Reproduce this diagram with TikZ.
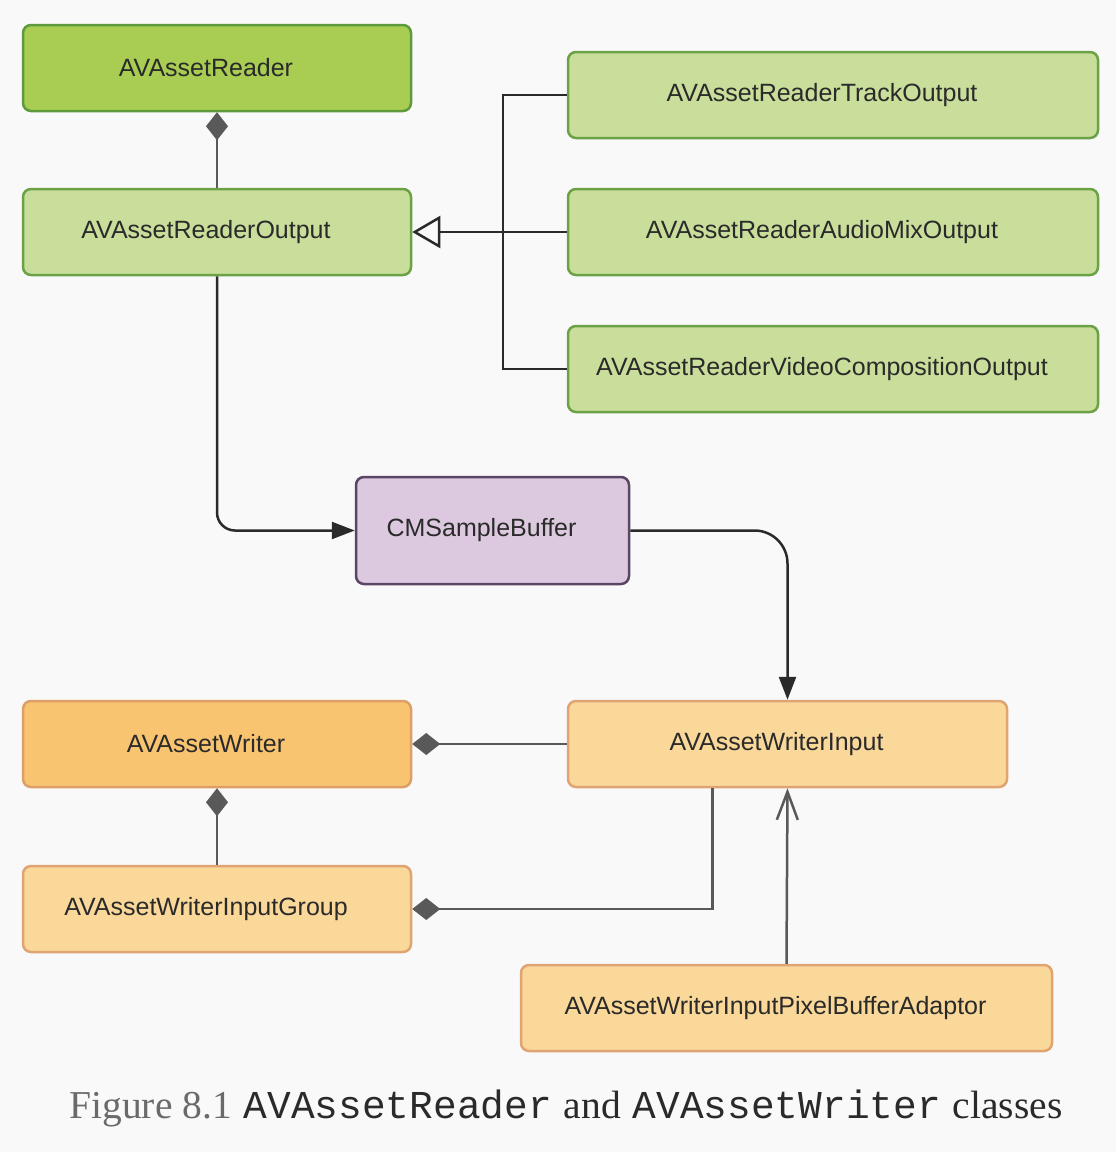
\documentclass[tikz,border=0pt]{standalone}
\usepackage{fontspec}
\newfontfamily\boxfont{Liberation Sans}
\newfontfamily\capfont{Liberation Serif}
\setmonofont{Liberation Mono}
\usetikzlibrary{arrows.meta,positioning}
\definecolor{bg}{HTML}{F9F9F9}
\definecolor{txt}{HTML}{2A2A2A}
\definecolor{rdfill}{HTML}{A9CD52}
\definecolor{rdline}{HTML}{5E9B3C}
\definecolor{ltgfill}{HTML}{C9DE9A}
\definecolor{ltgline}{HTML}{6AA245}
\definecolor{smfill}{HTML}{DCC9DF}
\definecolor{smline}{HTML}{5A4664}
\definecolor{wrfill}{HTML}{F9C46F}
\definecolor{wrline}{HTML}{DD9F68}
\definecolor{ltofill}{HTML}{FAD899}
\definecolor{ltoline}{HTML}{E0A472}
\definecolor{conngray}{HTML}{595959}
\definecolor{capgray}{HTML}{6A6A6A}

\begin{document}
\begin{tikzpicture}
[x=1pt, y=-1pt,
classnode/.style={rectangle, rounded corners=8pt, line width=2.5pt, minimum width=388pt, minimum height=86pt, text=txt, font=\boxfont\fontsize{25}{30}\selectfont, execute at end node={\hspace*{22pt}}},
readnode/.style={classnode, draw=rdline, fill=rdfill},
outnode/.style={classnode, draw=ltgline, fill=ltgfill},
bufnode/.style={classnode, draw=smline, fill=smfill, minimum width=273pt, minimum height=107pt},
writenode/.style={classnode, draw=wrline, fill=wrfill},
inputnode/.style={classnode, draw=ltoline, fill=ltofill},
comp/.style={line width=2.5pt, draw=conngray, -{Diamond[length=28pt, width=22pt, fill=conngray]}},
genline/.style={line width=2.5pt, draw=txt},
flow/.style={line width=2.5pt, draw=txt, -{Triangle[length=23pt, width=17pt, fill=txt]}},
assoc/.style={line width=2.5pt, draw=conngray, -{Straight Barb[length=28pt, width=21pt]}},
]
\fill[bg] (0,0) rectangle (1116,1152);
\useasboundingbox (0,0) rectangle (1116,1152);
%reader side
\node[readnode](reader) at (217,68) {AVAssetReader};
\node[outnode](readerout) at (217,232) {AVAssetReaderOutput};
\node[outnode, minimum width=530pt](track) at (833,95) {AVAssetReaderTrackOutput};
\node[outnode, minimum width=530pt](audio) at (833,232) {AVAssetReaderAudioMixOutput};
\node[outnode, minimum width=530pt](video) at (833,369) {AVAssetReaderVideoCompositionOutput};
%buffer
\node[bufnode](sample) at (492.5,530.5) {CMSampleBuffer};
%writer side
\node[writenode](writer) at (217,744) {AVAssetWriter};
\node[inputnode, minimum width=439pt](writerin) at (787.5,744) {AVAssetWriterInput};
\node[inputnode](group) at (217,909) {AVAssetWriterInputGroup};
\node[inputnode, minimum width=531pt](adaptor) at (786.5,1008) {AVAssetWriterInputPixelBufferAdaptor};
%caption
\node(caption) at (566,1108) {\fontsize{39.5}{46}\selectfont\color{txt}{\capfont\color{capgray}Figure 8.1} \texttt{AVAssetReader} {\capfont and} \texttt{AVAssetWriter} {\capfont classes}};
%draw line
\draw[comp] (readerout.north) -- (reader.south);
\draw[genline, -{Triangle[open, length=28pt, width=32pt]}] (audio.west) -- (readerout.east);
\draw[genline] (track.west) -- ++(-64,0) |- (video.west);
\draw[flow, rounded corners=18pt] (readerout.south) |- (sample.west);
\draw[flow, rounded corners=33pt] (sample.east) -| (writerin.north);
\draw[comp] (writerin.west) -- (writer.east);
\draw[comp] (group.north) -- (writer.south);
\draw[comp] ([xshift=-75pt]writerin.south) |- (group.east);
\draw[assoc] (adaptor.north) -- (writerin.south);
\end{tikzpicture}
\end{document}
